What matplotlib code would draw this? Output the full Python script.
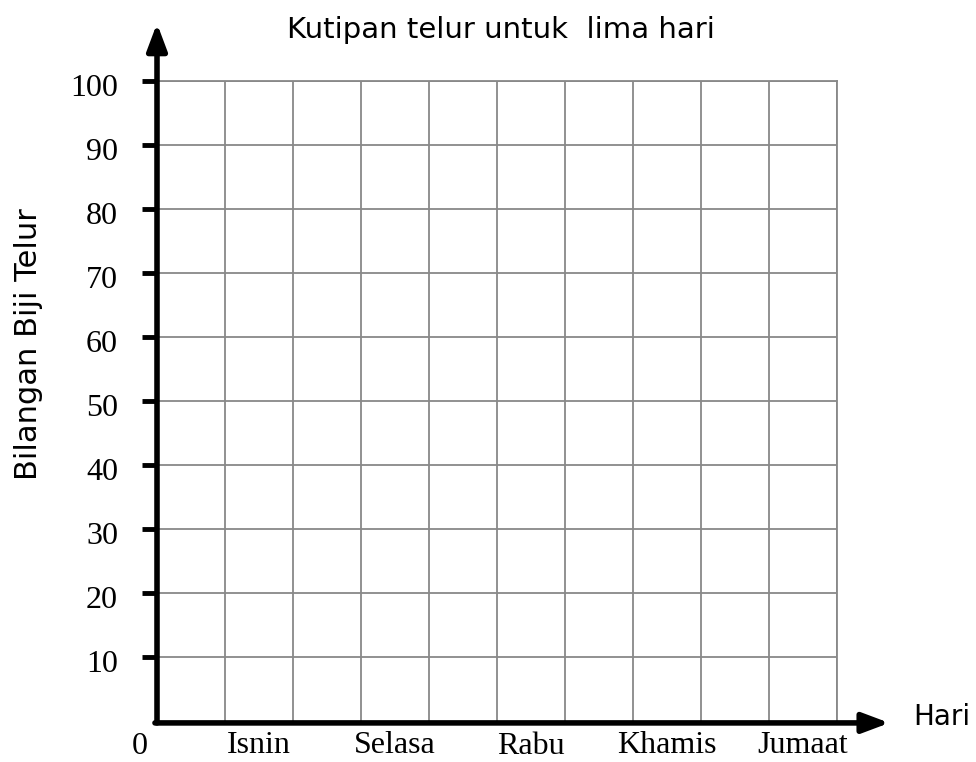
import matplotlib
matplotlib.use("Agg")
import matplotlib.pyplot as plt
import matplotlib.transforms as mtransforms
import numpy as np

# chart content
title = "Kutipan telur untuk  lima hari"
ylabel = "Bilangan Biji Telur"
xlabel = "Hari"
days = ["Isnin", "Selasa", "Rabu", "Khamis", "Jumaat"]
day_pos = [1.5, 3.5, 5.5, 7.5, 9.5]
y_ticks = [10, 20, 30, 40, 50, 60, 70, 80, 90, 100]
x_grid = list(range(0, 11))

W, H = 976, 762
fig = plt.figure(figsize=(W / 100, H / 100), dpi=100)
ax = fig.add_axes([157 / W, 41 / H, 680 / W, 640 / H])

ax.set_xlim(0, 10)
ax.set_ylim(0, 100)

# grid
ax.set_xticks(x_grid)
ax.set_xticklabels([])
ax.tick_params(axis="x", which="major", length=0)
ax.set_yticks(y_ticks)
ax.grid(True, color="#888888", linewidth=1.3)
ax.set_axisbelow(True)

# day labels
ax.set_xticks(day_pos, minor=True)
ax.set_xticklabels(days, minor=True, fontfamily="Liberation Serif", fontsize=23)
ax.tick_params(axis="x", which="minor", length=0, pad=7)
for lbl in ax.get_xticklabels(minor=True):
    if lbl.get_text() == "Rabu":
        lbl.set_y(-0.002)
    if lbl.get_text() == "Isnin":
        lbl.set_x(1.55)

ax.set_yticklabels([str(v) for v in y_ticks], fontfamily="Liberation Serif", fontsize=23)
ax.tick_params(axis="y", which="major", length=11, width=3.5, color="black", pad=17)
shift = mtransforms.ScaledTranslation(0, -4 / 100, fig.dpi_scale_trans)
for lbl in ax.get_yticklabels():
    lbl.set_transform(lbl.get_transform() + shift)

for side in ["top", "right"]:
    ax.spines[side].set_color("#888888")
    ax.spines[side].set_linewidth(1.3)
ax.spines["left"].set_visible(False)
ax.spines["bottom"].set_visible(False)

# axes with arrow heads
ax.annotate("", xy=(0, 1.09), xytext=(0, -0.003), xycoords="axes fraction",
            arrowprops=dict(arrowstyle="-|>,head_length=1.6,head_width=0.6",
                            lw=4, color="black", shrinkA=0, shrinkB=0))
ax.annotate("", xy=(1.077, -0.003), xytext=(-0.003, -0.003), xycoords="axes fraction",
            arrowprops=dict(arrowstyle="-|>,head_length=1.6,head_width=0.6",
                            lw=4, color="black", shrinkA=0, shrinkB=0))

fig.text(140 / W, 1 - 746 / H, "0", fontfamily="Liberation Serif", fontsize=23,
         ha="center", va="center")
fig.text(501 / W, 1 - 30 / H, title, fontsize=21, ha="center", va="center")
fig.text(942 / W, 1 - 717 / H, xlabel, fontsize=20, ha="center", va="center")
fig.text(29 / W, 1 - 344 / H, ylabel, fontsize=22, ha="center", va="center",
         rotation=90)

fig.savefig("out.png", dpi=100)
